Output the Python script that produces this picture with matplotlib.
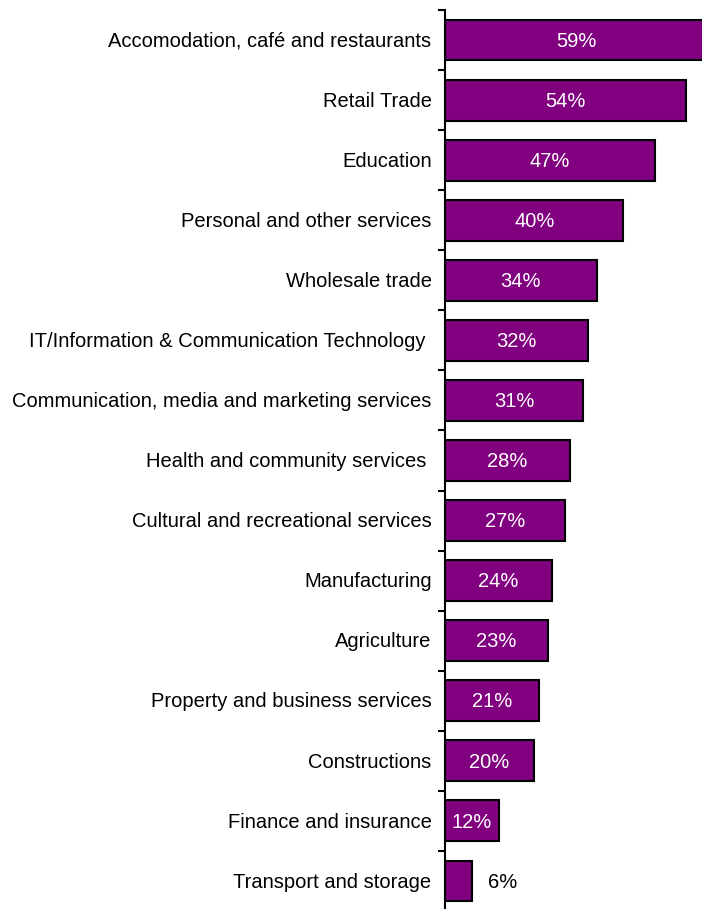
import numpy as np
import matplotlib.pyplot as plt

plt.rcParams['font.family'] = ['Liberation Sans', 'DejaVu Sans']

# Share of businesses per industry, top to bottom
industries = [
    'Accomodation, café and restaurants',
    'Retail Trade',
    'Education',
    'Personal and other services',
    'Wholesale trade',
    'IT/Information & Communication Technology ',
    'Communication, media and marketing services',
    'Health and community services ',
    'Cultural and recreational services',
    'Manufacturing',
    'Agriculture',
    'Property and business services',
    'Constructions',
    'Finance and insurance',
    'Transport and storage',
]
shares = [59, 54, 47, 40, 34, 32, 31, 28, 27, 24, 23, 21, 20, 12, 6]

fig = plt.figure(figsize=(7.02, 9.09), dpi=100)
# axes runs past the right edge so the longest bar is cut off
ax = fig.add_axes([445 / 702, -2 / 909, 267.6 / 702, 901 / 909])

y = np.arange(len(industries))
ax.barh(y, shares, height=0.68, color='#800080', edgecolor='black', linewidth=1.5)

for yi, v in zip(y, shares):
    if v >= 10:
        ax.text(v / 2, yi + 0.02, f'{v}%', ha='center', va='center', color='white', fontsize=14.5)
    else:
        ax.text(v + 7, yi + 0.02, f'{v}%', ha='center', va='center', color='black', fontsize=14.5)

ax.set_xlim(0, 60)
ax.set_ylim(len(industries) - 0.5, -0.5)

# category names as text, ticks sit on the boundaries between bars
for yi, name in zip(y, industries):
    ax.text(-3, yi + 0.02, name, ha='right', va='center', fontsize=14.5, color='black')
ax.set_yticks(np.arange(len(industries) + 1) - 0.5)
ax.set_yticklabels([])
ax.tick_params(axis='y', direction='out', length=5, width=1.5)
ax.set_xticks([])

for side in ['top', 'right', 'bottom']:
    ax.spines[side].set_visible(False)
ax.spines['left'].set_linewidth(1.5)

fig.savefig('out.png', dpi=100)
